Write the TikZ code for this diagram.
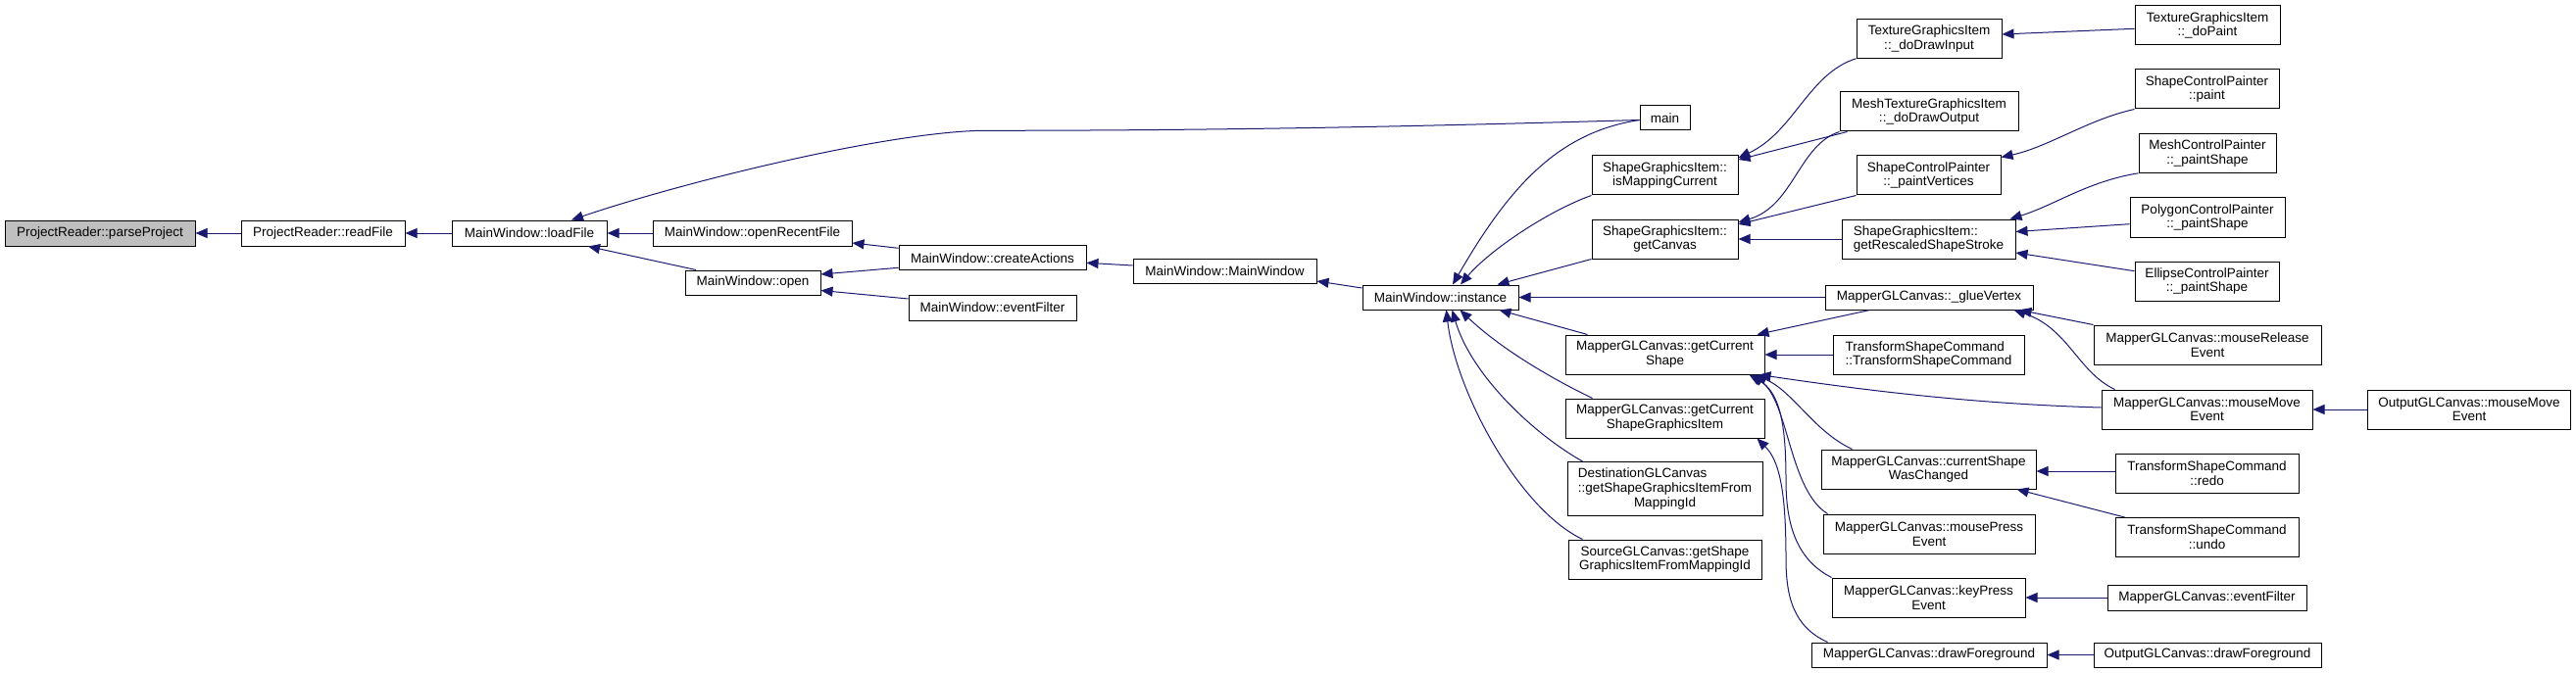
\documentclass[tikz,border=0pt]{standalone}
\usepackage{fontspec}
\setmainfont{Liberation Sans}
\usetikzlibrary{arrows.meta,calc}
\definecolor{edgeblue}{HTML}{191970}
\definecolor{nodegray}{HTML}{BFBFBF}
\begin{document}
\begin{tikzpicture}[x=1pt,y=-1pt,
  fn/.style={draw=black, line width=1pt, fill=white, inner sep=0pt, align=center,
    font=\fontsize{13.5}{14.7}\selectfont, text=black},
  root/.style={fn, fill=nodegray},
  call/.style={draw=edgeblue, line width=1pt, -{Triangle[length=12pt,width=10pt]}}]
\useasboundingbox (0,0) rectangle (2628,687);
% column 0-4
\node[root, minimum width=194pt, minimum height=26pt] (parse) at (102,238) {ProjectReader::parseProject};
\node[fn, minimum width=167pt, minimum height=26pt] (readf) at (329.5,238) {ProjectReader::readFile};
\node[fn, minimum width=158pt, minimum height=26pt] (loadf) at (540,238) {MainWindow::loadFile};
\node[fn, minimum width=203pt, minimum height=26pt] (openrf) at (767.5,238) {MainWindow::openRecentFile};
\node[fn, minimum width=138pt, minimum height=25pt] (open) at (768,288.5) {MainWindow::open};
\node[fn, minimum width=191pt, minimum height=25.3pt] (createa) at (1012.5,263.3) {MainWindow::createActions};
\node[fn, minimum width=171pt, minimum height=26pt] (mwevf) at (1012.5,314) {MainWindow::eventFilter};
\node[fn, minimum width=187pt, minimum height=25pt] (mwmw) at (1249.5,276.5) {MainWindow::MainWindow};
\node[fn, minimum width=159pt, minimum height=25pt] (inst) at (1469.5,303.5) {MainWindow::instance};
% column 5
\node[fn, minimum width=51pt, minimum height=25pt] (main) at (1698.5,120.5) {main};
\node[fn, minimum width=149pt, minimum height=40pt] (ismap) at (1698.5,179) {ShapeGraphicsItem::\\isMappingCurrent};
\node[fn, minimum width=149pt, minimum height=40pt] (getcv) at (1698.5,244) {ShapeGraphicsItem::\\getCanvas};
\node[fn, minimum width=203pt, minimum height=40pt] (gcs) at (1698.5,362) {MapperGLCanvas::getCurrent\\Shape};
\node[fn, minimum width=203pt, minimum height=40pt] (gcsgi) at (1698.5,427) {MapperGLCanvas::getCurrent\\ShapeGraphicsItem};
\node[fn, minimum width=199pt, minimum height=55pt] (dest) at (1698.5,499) {\rlap{DestinationGLCanvas}\phantom{::getShapeGraphicsItemFrom}\\::getShapeGraphicsItemFrom\\MappingId};
\node[fn, minimum width=197pt, minimum height=40pt] (src) at (1698.5,571) {SourceGLCanvas::getShape\\GraphicsItemFromMappingId};
% column 6
\node[fn, minimum width=148pt, minimum height=40pt] (ddi) at (1968,39.3) {TextureGraphicsItem\\::\_doDrawInput};
\node[fn, minimum width=182pt, minimum height=40pt] (ddo) at (1968,114) {MeshTextureGraphicsItem\\::\_doDrawOutput};
\node[fn, minimum width=147pt, minimum height=40pt] (pv) at (1967.5,179) {ShapeControlPainter\\::\_paintVertices};
\node[fn, minimum width=177pt, minimum height=40pt] (grss) at (1967.5,244) {\rlap{ShapeGraphicsItem::}\phantom{getRescaledShapeStroke}\\getRescaledShapeStroke};
\node[fn, minimum width=212pt, minimum height=25pt] (glue) at (1968,303.5) {MapperGLCanvas::\_glueVertex};
\node[fn, minimum width=195pt, minimum height=40pt] (tsc) at (1967.5,362) {\rlap{TransformShapeCommand}\phantom{::TransformShapeCommand}\\::TransformShapeCommand};
\node[fn, minimum width=219pt, minimum height=40pt] (cswc) at (1967.5,479) {MapperGLCanvas::currentShape\\WasChanged};
\node[fn, minimum width=216pt, minimum height=40pt] (mpe) at (1968,545) {MapperGLCanvas::mousePress\\Event};
\node[fn, minimum width=197pt, minimum height=40pt] (kpe) at (1967.5,610) {MapperGLCanvas::keyPress\\Event};
\node[fn, minimum width=240pt, minimum height=25pt] (dfg) at (1968,668.5) {MapperGLCanvas::drawForeground};
% column 7
\node[fn, minimum width=148pt, minimum height=40pt] (dop) at (2252,26) {TextureGraphicsItem\\::\_doPaint};
\node[fn, minimum width=147pt, minimum height=40pt] (scpp) at (2251.5,91) {ShapeControlPainter\\::paint};
\node[fn, minimum width=140pt, minimum height=40pt] (mcp) at (2252,156.3) {MeshControlPainter\\::\_paintShape};
\node[fn, minimum width=158pt, minimum height=40pt] (pcp) at (2252,222) {PolygonControlPainter\\::\_paintShape};
\node[fn, minimum width=147pt, minimum height=40pt] (ecp) at (2251.5,287) {EllipseControlPainter\\::\_paintShape};
\node[fn, minimum width=232pt, minimum height=40pt] (mre) at (2252,352) {MapperGLCanvas::mouseRelease\\Event};
\node[fn, minimum width=215pt, minimum height=40pt] (mme) at (2251.5,418) {MapperGLCanvas::mouseMove\\Event};
\node[fn, minimum width=187pt, minimum height=40pt] (redo) at (2251.5,483) {TransformShapeCommand\\::redo};
\node[fn, minimum width=187pt, minimum height=40pt] (undo) at (2251.5,548.5) {TransformShapeCommand\\::undo};
\node[fn, minimum width=203pt, minimum height=26pt] (mglevf) at (2251.5,610) {MapperGLCanvas::eventFilter};
\node[fn, minimum width=232pt, minimum height=25pt] (ogdf) at (2252,668.5) {OutputGLCanvas::drawForeground};
% column 8
\node[fn, minimum width=207pt, minimum height=40pt] (ogmm) at (2519,418) {OutputGLCanvas::mouseMove\\Event};
% edges
\draw[call] (readf.west) -- (parse.east);
\draw[call] (loadf.west) -- (readf.east);
\draw[call] (openrf.west) -- (loadf.east);
\draw[call] ($(open.north)+(-58,0)$) -- ($(loadf.south)+(60,0)$);
\draw[call] ($(main.west)+(0,2)$) .. controls (1450,129) and (1250,133.3) .. (1000,133.3) .. controls (900,136) and (700,185) .. ($(loadf.north)+(43,0)$);
\draw[call] ($(createa.west)+(0,-10)$) -- ($(openrf.east)+(0,10)$);
\draw[call] ($(createa.west)+(0,10)$) -- ($(open.east)+(0,-8.5)$);
\draw[call] ($(mwevf.west)+(0,-9)$) -- ($(open.east)+(0,8)$);
\draw[call] ($(mwmw.west)+(0,-5.5)$) -- ($(createa.east)+(0,5)$);
\draw[call] ($(inst.west)+(0,-9.5)$) -- ($(mwmw.east)+(0,10.5)$);
\draw[call] ($(main.west)+(0,2)$) .. controls (1590,135) and (1540,190) .. ($(inst.north)+(12.5,0)$);
\draw[call] (ismap.south west) .. controls (1580,215) and (1520,255) .. ($(inst.north)+(20.5,0)$);
\draw[call] (getcv.south west) -- ($(inst.north)+(58,0)$);
\draw[call] (glue.west) -- (inst.east);
\draw[call] ($(gcs.north west)+(23,0)$) -- ($(inst.south)+(60,0)$);
\draw[call] ($(gcsgi.north west)+(28,0)$) .. controls (1580,385) and (1530,355) .. ($(inst.south)+(20,0)$);
\draw[call] ($(dest.north west)+(16,0)$) .. controls (1560,440) and (1500,380) .. ($(inst.south)+(12,0)$);
\draw[call] ($(src.north west)+(15,0)$) .. controls (1550,520) and (1485,400) .. ($(inst.south)+(6,0)$);
\draw[call] (ddi.south west) .. controls (1845,75) and (1830,135) .. ($(ismap.east)+(0,-18)$);
\draw[call] ($(ddo.south west)+(8,0)$) -- ($(ismap.east)+(0,-16)$);
\draw[call] (ddo.south west) .. controls (1835,148) and (1830,210) .. ($(getcv.east)+(0,-17)$);
\draw[call] (pv.south west) -- ($(getcv.east)+(0,-15)$);
\draw[call] (grss.west) -- (getcv.east);
\draw[call] ($(dop.west)+(0,3.3)$) -- ($(ddi.east)+(0,-4.3)$);
\draw[call] (scpp.south west) .. controls (2130,122) and (2090,150) .. ($(pv.north east)+(0,2)$);
\draw[call] (mcp.south west) .. controls (2130,185) and (2095,210) .. ($(grss.north east)+(-6,0)$);
\draw[call] ($(pcp.west)+(0,6.7)$) -- ($(grss.east)+(0,-7.5)$);
\draw[call] ($(ecp.west)+(0,-10.3)$) -- ($(grss.east)+(0,14)$);
\draw[call] (mre.north west) -- ($(glue.south east)+(-14,0)$);
\draw[call] ($(mme.north west)+(14,0)$) .. controls (2120,380) and (2110,335) .. ($(glue.south east)+(-20,0)$);
\draw[call] ($(glue.south west)+(46,0)$) -- ($(gcs.north east)+(-8,0)$);
\draw[call] (tsc.west) -- (gcs.east);
\draw[call] ($(mme.west)+(0,-2)$) .. controls (2000,412) and (1880,395) .. ($(gcs.south east)+(-6,0)$);
\draw[call] ($(cswc.north west)+(32,0)$) .. controls (1850,440) and (1830,400) .. ($(gcs.south east)+(-10,0)$);
\draw[call] ($(mpe.north west)+(5,0)$) .. controls (1825,500) and (1825,410) .. ($(gcs.south east)+(-13,0)$);
\draw[call] (kpe.north west) .. controls (1830,570) and (1822,530) .. (1822,490) .. controls (1822,430) and (1815,400) .. ($(gcs.south east)+(-16,0)$);
\draw[call] ($(dfg.north west)+(17,0)$) .. controls (1830,640) and (1822,610) .. (1822,570) .. controls (1822,500) and (1815,470) .. ($(gcsgi.south east)+(-8,0)$);
\draw[call] ($(redo.west)+(0,-2)$) -- ($(cswc.east)+(0,2)$);
\draw[call] ($(undo.north west)+(10,0)$) -- ($(cswc.south east)+(-20,0)$);
\draw[call] (mglevf.west) -- (kpe.east);
\draw[call] (ogdf.west) -- (dfg.east);
\draw[call] (ogmm.west) -- (mme.east);
\end{tikzpicture}
\end{document}
